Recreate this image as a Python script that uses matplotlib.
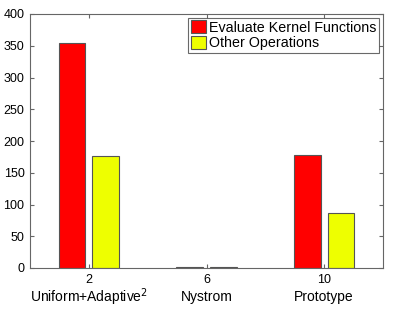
import matplotlib
matplotlib.use("Agg")
import matplotlib.pyplot as plt
import matplotlib.transforms as mtransforms
import numpy as np

plt.rcParams['font.family'] = ['Liberation Sans', 'DejaVu Sans']

positions = [2, 6, 10]
categories = ['Uniform+Adaptive$^2$', 'Nystrom', 'Prototype']
kernel_vals = [355, 1.5, 178]
other_vals = [176, 0.8, 87]
series_names = ['Evaluate Kernel Functions', 'Other Operations']

fig = plt.figure(figsize=(3.99, 3.24), dpi=100)
ax = fig.add_axes([30/399, 1-268/324, (383-30)/399, (268-14)/324])

x = np.array(positions, dtype=float)
off = 0.57
w = 0.9
edge = '#555555'
ax.bar(x - off, kernel_vals, width=w, color='#ff0000', edgecolor=edge, linewidth=0.8, label=series_names[0])
ax.bar(x + off, other_vals, width=w, color='#eeff00', edgecolor=edge, linewidth=0.8, label=series_names[1])

ax.set_xlim(0, 12)
ax.set_ylim(0, 400)
ax.set_xticks(positions)
ax.set_xticklabels([str(p) for p in positions])
ax.set_yticks(np.arange(0, 401, 50))
ax.tick_params(direction='in', top=True, right=True, labelsize=9, length=3, color='#666666', pad=4)
for s in ax.spines.values():
    s.set_color('#666666')
    s.set_linewidth(0.8)

trans = mtransforms.blended_transform_factory(ax.transData, ax.transAxes)
for p, c in zip(positions, categories):
    ax.text(p, -0.115, c, transform=trans, ha='center', va='center', fontsize=10)

leg = ax.legend(loc='upper right', fontsize=10.3, frameon=True, fancybox=False,
                borderpad=0.2, handlelength=1.1, handleheight=1.0, handletextpad=0.2,
                labelspacing=0.1, borderaxespad=0.25)
leg.get_frame().set_edgecolor('#444444')
leg.get_frame().set_linewidth(0.8)

fig.savefig('out.png', dpi=100)
